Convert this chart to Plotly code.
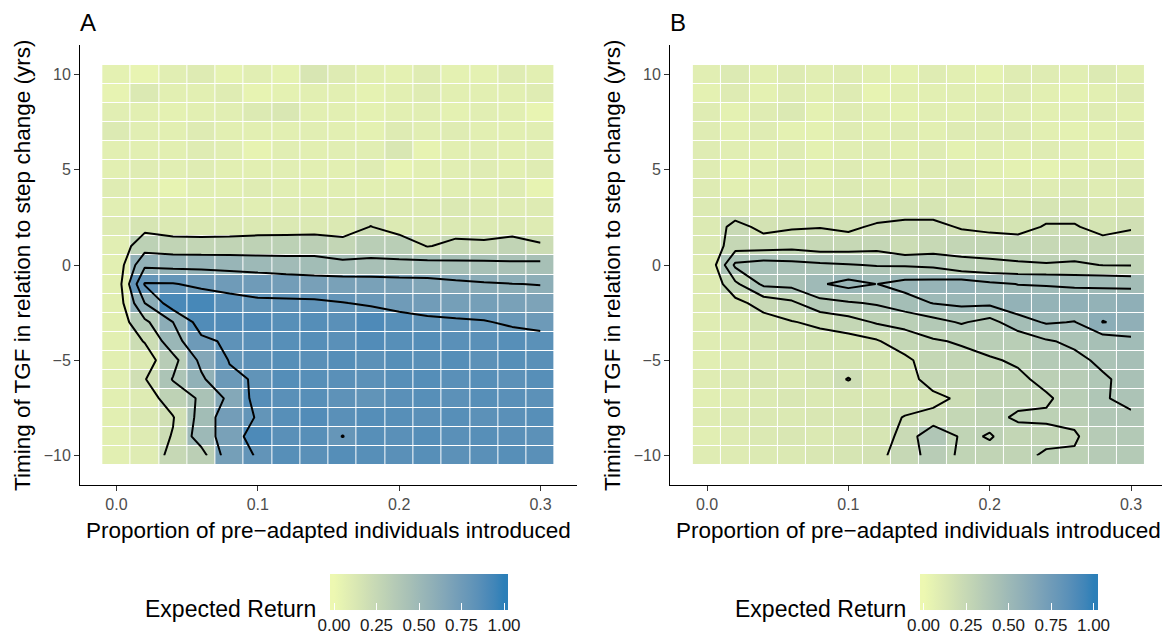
import plotly.graph_objects as go

# ---------------- data ----------------
x_vals = [0.00, 0.02, 0.04, 0.06, 0.08, 0.10, 0.12, 0.14, 0.16, 0.18, 0.20, 0.22, 0.24, 0.26, 0.28, 0.30]
y_vals = [10, 9, 8, 7, 6, 5, 4, 3, 2, 1, 0, -1, -2, -3, -4, -5, -6, -7, -8, -9, -10]

# Panel A: expected return, rows from y=10 (top) to y=-10 (bottom)
returns_A = [
    [0.06, 0.03, 0.08, 0.10, 0.05, 0.08, 0.05, 0.14, 0.10, 0.07, 0.06, 0.09, 0.06, 0.06, 0.09, 0.07],
    [0.04, 0.12, 0.07, 0.07, 0.09, 0.04, 0.06, 0.07, 0.07, 0.05, 0.07, 0.09, 0.07, 0.07, 0.07, 0.09],
    [0.08, 0.07, 0.06, 0.07, 0.08, 0.11, 0.13, 0.07, 0.07, 0.06, 0.07, 0.08, 0.06, 0.08, 0.07, 0.03],
    [0.11, 0.08, 0.07, 0.10, 0.07, 0.07, 0.07, 0.08, 0.07, 0.06, 0.10, 0.08, 0.09, 0.07, 0.07, 0.08],
    [0.07, 0.07, 0.07, 0.09, 0.08, 0.04, 0.08, 0.07, 0.08, 0.08, 0.13, 0.04, 0.07, 0.08, 0.07, 0.08],
    [0.07, 0.09, 0.08, 0.09, 0.07, 0.07, 0.08, 0.07, 0.07, 0.09, 0.04, 0.07, 0.08, 0.09, 0.07, 0.09],
    [0.09, 0.07, 0.04, 0.08, 0.07, 0.09, 0.08, 0.07, 0.08, 0.07, 0.08, 0.07, 0.08, 0.07, 0.09, 0.04],
    [0.08, 0.07, 0.08, 0.07, 0.09, 0.08, 0.09, 0.09, 0.09, 0.10, 0.10, 0.10, 0.12, 0.10, 0.09, 0.10],
    [0.10, 0.15, 0.12, 0.12, 0.12, 0.12, 0.12, 0.12, 0.12, 0.205, 0.11, 0.12, 0.12, 0.11, 0.12, 0.10],
    [0.08, 0.31, 0.28, 0.27, 0.28, 0.30, 0.31, 0.32, 0.27, 0.33, 0.33, 0.19, 0.25, 0.24, 0.28, 0.22],
    [0.07, 0.565, 0.55, 0.55, 0.53, 0.50, 0.48, 0.47, 0.45, 0.44, 0.43, 0.47, 0.447, 0.445, 0.43, 0.445],
    [0.07, 0.815, 0.81, 0.76, 0.75, 0.75, 0.73, 0.706, 0.70, 0.698, 0.69, 0.661, 0.638, 0.617, 0.603, 0.595],
    [0.07, 0.60, 0.91, 0.92, 0.85, 0.819, 0.822, 0.823, 0.805, 0.78, 0.75, 0.74, 0.72, 0.72, 0.70, 0.68],
    [0.07, 0.36, 0.60, 0.886, 0.88, 0.88, 0.86, 0.87, 0.85, 0.898, 0.861, 0.828, 0.82, 0.809, 0.78, 0.76],
    [0.07, 0.21, 0.52, 0.76, 0.83, 0.85, 0.86, 0.87, 0.85, 0.88, 0.86, 0.87, 0.85, 0.85, 0.86, 0.845],
    [0.07, 0.108, 0.34, 0.646, 0.808, 0.84, 0.86, 0.85, 0.87, 0.84, 0.86, 0.85, 0.87, 0.84, 0.86, 0.85],
    [0.08, 0.19, 0.41, 0.57, 0.77, 0.816, 0.87, 0.86, 0.85, 0.84, 0.86, 0.87, 0.85, 0.86, 0.84, 0.86],
    [0.07, 0.10, 0.30, 0.425, 0.644, 0.867, 0.85, 0.86, 0.83, 0.82, 0.85, 0.86, 0.84, 0.86, 0.85, 0.84],
    [0.07, 0.12, 0.19, 0.47, 0.73, 0.81, 0.86, 0.88, 0.85, 0.87, 0.86, 0.85, 0.86, 0.84, 0.85, 0.86],
    [0.07, 0.10, 0.21, 0.50, 0.70, 0.90, 0.85, 0.86, 0.797, 0.86, 0.85, 0.87, 0.85, 0.86, 0.85, 0.84],
    [0.07, 0.09, 0.25, 0.32, 0.72, 0.814, 0.86, 0.85, 0.87, 0.86, 0.85, 0.86, 0.84, 0.85, 0.86, 0.85],
]

# Panel B
returns_B = [
    [0.08, 0.11, 0.07, 0.10, 0.08, 0.09, 0.07, 0.06, 0.09, 0.07, 0.05, 0.09, 0.09, 0.08, 0.11, 0.08],
    [0.06, 0.10, 0.06, 0.09, 0.07, 0.10, 0.04, 0.07, 0.07, 0.08, 0.07, 0.09, 0.07, 0.06, 0.07, 0.10],
    [0.09, 0.06, 0.09, 0.12, 0.06, 0.09, 0.08, 0.06, 0.08, 0.07, 0.09, 0.08, 0.07, 0.08, 0.09, 0.07],
    [0.09, 0.07, 0.09, 0.06, 0.06, 0.09, 0.07, 0.09, 0.07, 0.10, 0.09, 0.10, 0.07, 0.06, 0.07, 0.09],
    [0.09, 0.08, 0.07, 0.09, 0.06, 0.08, 0.09, 0.07, 0.09, 0.06, 0.08, 0.07, 0.09, 0.08, 0.07, 0.06],
    [0.09, 0.06, 0.08, 0.09, 0.07, 0.10, 0.08, 0.09, 0.10, 0.09, 0.07, 0.06, 0.05, 0.07, 0.09, 0.10],
    [0.10, 0.07, 0.08, 0.09, 0.08, 0.11, 0.10, 0.08, 0.10, 0.12, 0.08, 0.10, 0.09, 0.11, 0.09, 0.11],
    [0.11, 0.12, 0.10, 0.12, 0.11, 0.12, 0.14, 0.15, 0.15, 0.11, 0.13, 0.12, 0.15, 0.15, 0.12, 0.13],
    [0.11, 0.24, 0.168, 0.189, 0.197, 0.181, 0.215, 0.23, 0.23, 0.19, 0.17, 0.16, 0.21, 0.21, 0.16, 0.19],
    [0.12, 0.256, 0.259, 0.269, 0.25, 0.253, 0.265, 0.22, 0.244, 0.27, 0.27, 0.26, 0.25, 0.25, 0.25, 0.25],
    [0.10, 0.42, 0.444, 0.433, 0.417, 0.405, 0.395, 0.39, 0.38, 0.323, 0.315, 0.31, 0.306, 0.3125, 0.298, 0.295],
    [0.10, 0.279, 0.42, 0.43, 0.49, 0.53, 0.499, 0.533, 0.538, 0.556, 0.52, 0.498, 0.494, 0.481, 0.483, 0.473],
    [0.10, 0.169, 0.24, 0.28, 0.37, 0.39, 0.41, 0.461, 0.503, 0.52, 0.52, 0.56, 0.554, 0.576, 0.56, 0.581],
    [0.09, 0.12, 0.16, 0.195, 0.22, 0.26, 0.31, 0.325, 0.366, 0.41, 0.366, 0.46, 0.51, 0.496, 0.603, 0.58],
    [0.09, 0.11, 0.13, 0.15, 0.16, 0.16, 0.19, 0.261, 0.29, 0.31, 0.33, 0.332, 0.39, 0.42, 0.445, 0.476],
    [0.08, 0.10, 0.12, 0.13, 0.14, 0.15, 0.15, 0.174, 0.261, 0.27, 0.292, 0.31, 0.36, 0.375, 0.42, 0.45],
    [0.09, 0.12, 0.13, 0.12, 0.15, 0.205, 0.14, 0.15, 0.25, 0.25, 0.27, 0.285, 0.32, 0.34, 0.387, 0.43],
    [0.08, 0.09, 0.11, 0.13, 0.12, 0.13, 0.13, 0.15, 0.17, 0.22, 0.28, 0.28, 0.29, 0.33, 0.395, 0.415],
    [0.09, 0.11, 0.12, 0.12, 0.13, 0.14, 0.16, 0.205, 0.23, 0.26, 0.28, 0.31, 0.31, 0.32, 0.38, 0.39],
    [0.08, 0.10, 0.12, 0.13, 0.12, 0.14, 0.15, 0.23, 0.39, 0.285, 0.305, 0.27, 0.28, 0.29, 0.35, 0.37],
    [0.09, 0.10, 0.11, 0.12, 0.13, 0.15, 0.17, 0.25, 0.34, 0.287, 0.28, 0.28, 0.31, 0.31, 0.35, 0.36],
]

x_ticks = [0.0, 0.1, 0.2, 0.3]
x_ticktext = ["0.0", "0.1", "0.2", "0.3"]
y_ticks = [-10, -5, 0, 5, 10]
y_ticktext = ["\u221210", "\u22125", "0", "5", "10"]
cb_ticks = [0, 0.25, 0.5, 0.75, 1.0]
cb_ticktext = ["0.00", "0.25", "0.50", "0.75", "1.00"]

# ------------- colour scale (Lab interpolation like ggplot) -------------
LOW, HIGH = "#edf8b1", "#2c7fb8"


def _hex2rgb(h):
    h = h.lstrip("#")
    return [int(h[i:i + 2], 16) / 255 for i in (0, 2, 4)]


def _lin(c):
    return c / 12.92 if c <= 0.04045 else ((c + 0.055) / 1.055) ** 2.4


def _delin(c):
    c = max(0.0, min(1.0, c))
    return 12.92 * c if c <= 0.0031308 else 1.055 * c ** (1 / 2.4) - 0.055


def _rgb2lab(rgb):
    r, g, b = [_lin(c) for c in rgb]
    X = (0.4124 * r + 0.3576 * g + 0.1805 * b) / 0.95047
    Y = (0.2126 * r + 0.7152 * g + 0.0722 * b)
    Z = (0.0193 * r + 0.1192 * g + 0.9505 * b) / 1.08883
    f = lambda t: t ** (1 / 3) if t > 0.008856 else 7.787 * t + 16 / 116
    fx, fy, fz = f(X), f(Y), f(Z)
    return [116 * fy - 16, 500 * (fx - fy), 200 * (fy - fz)]


def _lab2rgb(lab):
    L, a, b = lab
    fy = (L + 16) / 116
    fx = fy + a / 500
    fz = fy - b / 200
    finv = lambda t: t ** 3 if t ** 3 > 0.008856 else (t - 16 / 116) / 7.787
    X, Y, Z = finv(fx) * 0.95047, finv(fy), finv(fz) * 1.08883
    r = 3.2406 * X - 1.5372 * Y - 0.4986 * Z
    g = -0.9689 * X + 1.8758 * Y + 0.0415 * Z
    bb = 0.0557 * X - 0.2040 * Y + 1.0570 * Z
    return "rgb(%d,%d,%d)" % tuple(round(_delin(c) * 255) for c in (r, g, bb))


# the legend bar extends a little beyond its 0..1 limits, as in ggplot
EXT = 4.0 / 170.0
CMIN, CMAX = -EXT, 1 + EXT
_l0, _l1 = _rgb2lab(_hex2rgb(LOW)), _rgb2lab(_hex2rgb(HIGH))
_pos = lambda v: (v - CMIN) / (CMAX - CMIN)
colorscale = [[0.0, _lab2rgb(_l0)]]
for i in range(21):
    t = i / 20
    colorscale.append([_pos(t), _lab2rgb([_l0[k] + (_l1[k] - _l0[k]) * t for k in range(3)])])
colorscale.append([1.0, _lab2rgb(_l1)])

# ascending y for plotly
y_asc = y_vals[::-1]
zA = returns_A[::-1]
zB = returns_B[::-1]

FONT = "Liberation Sans, Arial, Helvetica, sans-serif"

fig = go.Figure()
fig.add_trace(go.Heatmap(x=x_vals, y=y_asc, z=zA, coloraxis="coloraxis", xgap=1, ygap=1,
                         xaxis="x", yaxis="y", hoverinfo="skip"))
fig.add_trace(go.Contour(x=x_vals, y=y_asc, z=zA, autocontour=False,
                         contours=dict(coloring="none", start=0.2, end=0.8001, size=0.2),
                         line=dict(color="black", width=2, smoothing=0), showscale=False,
                         xaxis="x", yaxis="y", hoverinfo="skip"))
fig.add_trace(go.Heatmap(x=x_vals, y=y_asc, z=zB, coloraxis="coloraxis2", xgap=1, ygap=1,
                         xaxis="x2", yaxis="y2", hoverinfo="skip"))
fig.add_trace(go.Contour(x=x_vals, y=y_asc, z=zB, autocontour=False,
                         contours=dict(coloring="none", start=0.2, end=0.6001, size=0.1),
                         line=dict(color="black", width=2, smoothing=0), showscale=False,
                         xaxis="x2", yaxis="y2", hoverinfo="skip"))

W, H = 1162, 641
ML, MR, MT, MB = 80, 0, 45, 156
PW, PH = W - ML - MR, H - MT - MB


def px_x(p):
    return (p - ML) / PW


def px_y(p):
    return (H - MB - p) / PH


def cbar(cx):
    return dict(orientation="h", x=px_x(cx), xanchor="center", y=px_y(574), yanchor="top",
                len=178, lenmode="pixels", thickness=36, outlinewidth=0, xpad=0, ypad=0,
                tickvals=cb_ticks, ticktext=cb_ticktext, ticks="inside", ticklen=7,
                tickcolor="white", tickwidth=1,
                tickfont=dict(family=FONT, size=17, color="#1a1a1a"))


axis_common = dict(showgrid=False, zeroline=False, showline=True, linecolor="black", linewidth=1,
                   ticks="outside", ticklen=5, tickcolor="#333333", tickwidth=1,
                   tickfont=dict(family=FONT, size=16, color="#4d4d4d"))

fig.update_layout(
    width=W, height=H, margin=dict(l=ML, r=MR, t=MT, b=MB, autoexpand=False),
    paper_bgcolor="white", plot_bgcolor="white", showlegend=False,
    coloraxis=dict(colorscale=colorscale, cmin=CMIN, cmax=CMAX, colorbar=cbar(419)),
    coloraxis2=dict(colorscale=colorscale, cmin=CMIN, cmax=CMAX, colorbar=cbar(1008.5)),
    xaxis=dict(domain=[0, px_x(577)], range=[-0.0258, 0.3258], tickvals=x_ticks, ticktext=x_ticktext,
               anchor="y", **axis_common),
    yaxis=dict(domain=[0, 1], range=[-11.55, 11.55], tickvals=y_ticks, ticktext=y_ticktext,
               anchor="x", **axis_common),
    xaxis2=dict(domain=[px_x(670), 1], range=[-0.0262, 0.3219], tickvals=x_ticks, ticktext=x_ticktext,
                anchor="y2", **axis_common),
    yaxis2=dict(domain=[0, 1], range=[-11.55, 11.55], tickvals=y_ticks, ticktext=y_ticktext,
                anchor="x2", **axis_common),
)

ann = []
xtitle = "Proportion of pre\u2212adapted individuals introduced"
ytitle = "Timing of TGF in relation to step change (yrs)"
for cx, ycx, tag_x, leg_x, tag in [(328.5, 22, 88, 318, "A"), (918.5, 612, 678, 908, "B")]:
    ann.append(dict(text=xtitle, x=px_x(cx), y=px_y(530), xref="paper", yref="paper",
                    showarrow=False, xanchor="center", yanchor="middle",
                    font=dict(family=FONT, size=22.5, color="black")))
    ann.append(dict(text=ytitle, x=px_x(ycx), y=px_y(266), xref="paper", yref="paper",
                    showarrow=False, xanchor="center", yanchor="middle", textangle=-90,
                    font=dict(family=FONT, size=22.5, color="black")))
    ann.append(dict(text=tag, x=px_x(tag_x), y=px_y(22), xref="paper", yref="paper",
                    showarrow=False, xanchor="center", yanchor="middle",
                    font=dict(family=FONT, size=24, color="black")))
    ann.append(dict(text="Expected Return", x=px_x(leg_x), y=px_y(609), xref="paper", yref="paper",
                    showarrow=False, xanchor="right", yanchor="middle",
                    font=dict(family=FONT, size=23, color="black")))
fig.update_layout(annotations=ann)

fig.write_html("out.html")
